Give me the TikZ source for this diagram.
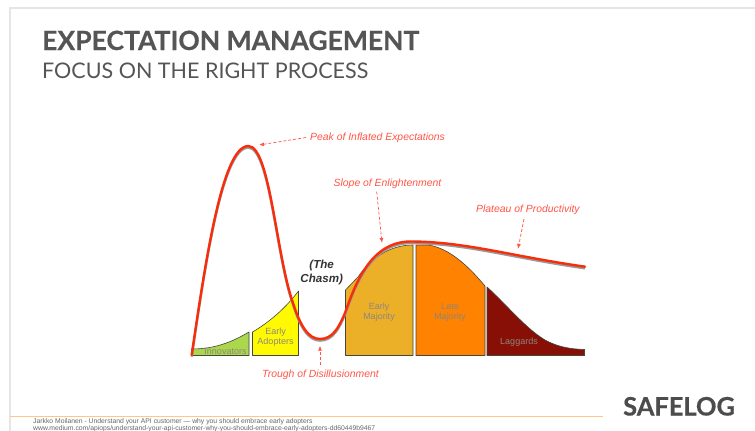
\documentclass[tikz,border=0pt]{standalone}
\usepackage{fontspec}
\setmainfont{Liberation Sans}
\newfontfamily\lato{Lato}
\newfontfamily\latobd[BoldFeatures={FakeBold=0.5}]{Lato}
\definecolor{redc}{RGB}{250,45,10}
\definecolor{lab}{RGB}{255,85,70}
\definecolor{inn}{RGB}{170,215,75}
\definecolor{yel}{RGB}{255,250,0}
\definecolor{maj}{RGB}{235,175,40}
\definecolor{lat}{RGB}{255,130,0}
\definecolor{lag}{RGB}{135,15,5}
\definecolor{seg}{RGB}{70,70,60}
\definecolor{ink}{RGB}{85,85,85}
\definecolor{labg}{RGB}{140,135,125}
\usetikzlibrary{arrows.meta}
\tikzset{
  seglab/.style={font=\fontsize{9}{10}\selectfont, align=center, text=labg, inner sep=0pt},
  curvelab/.style={font=\fontsize{10.4}{12}\selectfont\itshape, text=lab, inner sep=0pt},
  callout/.style={draw=lab, densely dashed, line width=0.7pt, -{Latex[length=5pt,width=4pt]}},
  segm/.style={draw=seg, line width=0.6pt, line join=round},
  frameline/.style={draw=black!10, line width=1.3pt}
}
\begin{document}
\begin{tikzpicture}[x=1pt,y=-1pt]
\useasboundingbox (0,0) rectangle (755,431);
\fill[white] (0,0) rectangle (755,431);
\draw[frameline] (755,8) -- (10,8) -- (10,431);
\node[anchor=base west, inner sep=0pt, text=ink, font=\fontsize{26.5}{30}\selectfont\latobd\bfseries] (title) at (42,50) {EXPECTATION MANAGEMENT};
\node[anchor=base west, inner sep=0pt, text=ink, font=\fontsize{21.5}{26}\selectfont\lato] (subtitle) at (42,78) {FOCUS ON THE RIGHT PROCESS};
% segments
\filldraw[segm, fill=inn] (191.5,355.5) -- (191.5,349) .. controls (215,349) and (232,342) .. (249,332) -- (249,355.5) -- cycle;
\filldraw[segm, fill=yel] (252.5,355.5) -- (252.5,332) .. controls (268,323) and (285,309) .. (298.5,291) -- (298.5,355.5) -- cycle;
\filldraw[segm, fill=maj] (345.5,355.5) -- (345.5,290) -- (358,277) .. controls (372,256) and (392,245) .. (413,245) -- (413,355.5) -- cycle;
\filldraw[segm, fill=lat] (416,355.5) -- (416,245) -- (428,245) .. controls (450,248) and (470,268) .. (485,286) -- (485,355.5) -- cycle;
\filldraw[segm, fill=lag] (487,355.5) -- (487,287) .. controls (505,303) and (525,328) .. (545,340) .. controls (558,347) and (570,349) .. (584.5,349.5) -- (584.5,355.5) -- cycle;
\node[seglab, anchor=center] (innov) at (225.5,351) {Innovators};
\node[seglab] (adopt) at (275.5,336.7) {Early\\Adopters};
\node[seglab] (emaj) at (379,312) {Early\\Majority};
\node[seglab] (lmaj) at (450,312) {Late\\Majority};
\node[seglab] (lagl) at (519,342) {Laggards};
\node[font=\fontsize{11.6}{14}\selectfont\bfseries\itshape, text=black!80, align=center, inner sep=0pt] (chasm) at (321.7,272) {(The\\Chasm)};
% hype curve with shadow
\def\hype{(191.7,355) .. controls (205,265) and (222,146) .. (248.3,146) .. controls (270,146) and (276,255) .. (293,303) .. controls (300,325) and (308,339) .. (320,339) .. controls (333,339) and (339,327) .. (345,313) .. controls (355,285) and (370,242) .. (410,241.5) .. controls (465,241.5) and (510,256) .. (585,266.7)}
\draw[black!40, line width=2.4pt, yshift=-1.6pt] \hype;
\draw[redc, line width=2.4pt, line cap=round] \hype;
% callouts
\node[curvelab, anchor=west] (peak) at (310,137.5) {Peak of Inflated Expectations};
\node[curvelab, anchor=west] (slope) at (333.5,184) {Slope of Enlightenment};
\node[curvelab, anchor=west] (plat) at (476,209.5) {Plateau of Productivity};
\node[curvelab, anchor=west] (trough) at (262,374.5) {Trough of Disillusionment};
\coordinate (peakpt) at (259,145);
\coordinate (slopept) at (382,243);
\coordinate (platpt) at (518,249);
\coordinate (troughpt) at (320,345.7);
\draw[callout] (peak.west) ++(-4,0) -- (peakpt);
\draw[callout] (376.7,191.7) -- (slopept);
\draw[callout] (524,219) -- (platpt);
\draw[callout] (320,365) -- (troughpt);
% footer
\draw[draw=orange!45!white, line width=0.8pt] (10,416) -- (603,416);
\node[anchor=base west, inner sep=0pt, text=black!60, font=\fontsize{6.8}{8}\selectfont] (f1) at (33,423) {Jarkko Moilanen  - Understand your API customer — why you should  embrace early adopters};
\node[anchor=base west, inner sep=0pt, text=black!60, font=\fontsize{6.8}{8}\selectfont] (f2) at (33,430.5) {www.medium.com/apiops/understand-your-api-customer-why-you-should-embrace-early-adopters-dd60449b9467};
\node[anchor=base west, inner sep=0pt, text=ink!90!black, font=\fontsize{25.4}{30}\selectfont\latobd\bfseries] (logo) at (623,415.5) {SAFELOG};
\end{tikzpicture}
\end{document}
